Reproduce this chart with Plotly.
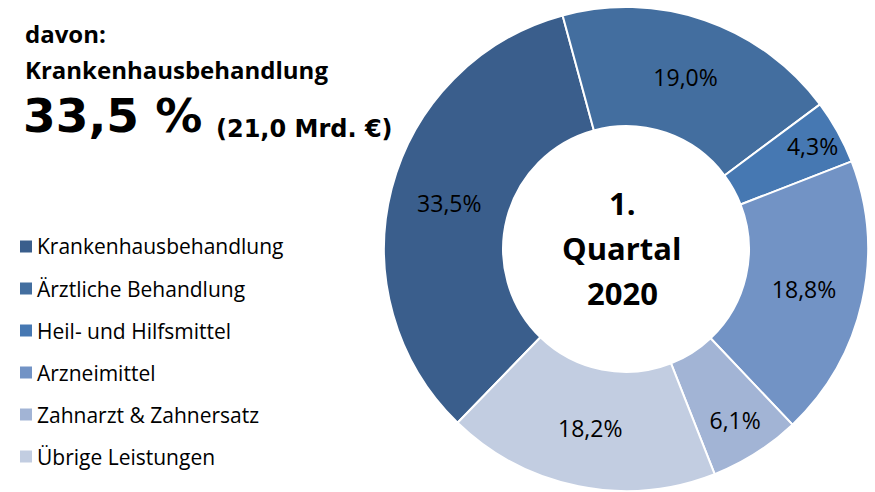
import plotly.graph_objects as go

# ---- data ----
categories = ["Krankenhausbehandlung", "Ärztliche Behandlung", "Heil- und Hilfsmittel",
              "Arzneimittel", "Zahnarzt & Zahnersatz", "Übrige Leistungen"]
shares = [33.5, 19.0, 4.3, 18.8, 6.1, 18.2]
colors = ["#3A5E8C", "#436E9F", "#4678B2", "#7293C5", "#A2B4D5", "#C2CDE1"]

headline_lines = ["davon:", "Krankenhausbehandlung"]
headline_value = "33,5 %"
headline_amount = "(21,0 Mrd. €)"
center_lines = ["1.", "Quartal", "2020"]

W, H = 875, 492

def py(px):
    return 1 - px / H

def pxx(px):
    return px / W

fig = go.Figure()
fig.add_trace(go.Pie(
    labels=categories,
    values=shares,
    sort=False,
    direction="clockwise",
    rotation=-135.9,
    hole=0.508,
    marker=dict(colors=colors, line=dict(color="white", width=2)),
    texttemplate="%{value:.1f}%",
    textposition="inside",
    insidetextorientation="horizontal",
    textfont=dict(family="Open Sans", size=23, color="black"),
    domain=dict(x=[384 / W, 868 / W], y=[(H - 491) / H, (H - 7) / H]),
    showlegend=False,
    hoverinfo="label+percent",
))

ann = []
# headline
ann.append(dict(text="<b>" + headline_lines[0] + "</b>", x=pxx(23), y=py(33),
                font=dict(family="Open Sans", size=24, color="black")))
ann.append(dict(text="<b>" + headline_lines[1] + "</b>", x=pxx(23), y=py(69),
                font=dict(family="Open Sans", size=24, color="black")))
ann.append(dict(text="<b>" + headline_value + "</b>", x=pxx(21), y=py(115),
                font=dict(family="DejaVu Sans", size=47, color="black")))
ann.append(dict(text="<b>" + headline_amount + "</b>", x=pxx(214), y=py(129),
                font=dict(family="DejaVu Sans", size=24, color="black")))
for a in ann:
    a.update(xref="paper", yref="paper", xanchor="left", yanchor="middle", showarrow=False)

# center text
center_y = [203, 247.5, 293]
for t, yy in zip(center_lines, center_y):
    ann.append(dict(text="<b>" + t + "</b>", x=pxx(622), y=py(yy), xref="paper", yref="paper",
                    xanchor="center", yanchor="middle", showarrow=False,
                    font=dict(family="Open Sans", size=31, color="black")))

# legend built from categories/colors
shapes = []
row_y0 = 246.5
row_gap = 42
for i, (cat, col) in enumerate(zip(categories, colors)):
    yc = row_y0 + i * row_gap
    shapes.append(dict(type="rect", xref="paper", yref="paper",
                       x0=pxx(20), x1=pxx(32), y0=py(yc + 6), y1=py(yc - 6),
                       fillcolor=col, line=dict(width=0)))
    ann.append(dict(text=cat, x=pxx(35), y=py(yc), xref="paper", yref="paper",
                    xanchor="left", yanchor="middle", showarrow=False,
                    font=dict(family="Open Sans", size=21, color="black")))

fig.update_layout(
    width=W, height=H,
    margin=dict(l=0, r=0, t=0, b=0),
    paper_bgcolor="white", plot_bgcolor="white",
    separators=",.",
    uniformtext=dict(minsize=23, mode="show"),
    annotations=ann,
    shapes=shapes,
)

fig.write_html("out.html", config={"displayModeBar": False},
               post_script="document.body.style.margin='0';document.body.style.padding='0';")
